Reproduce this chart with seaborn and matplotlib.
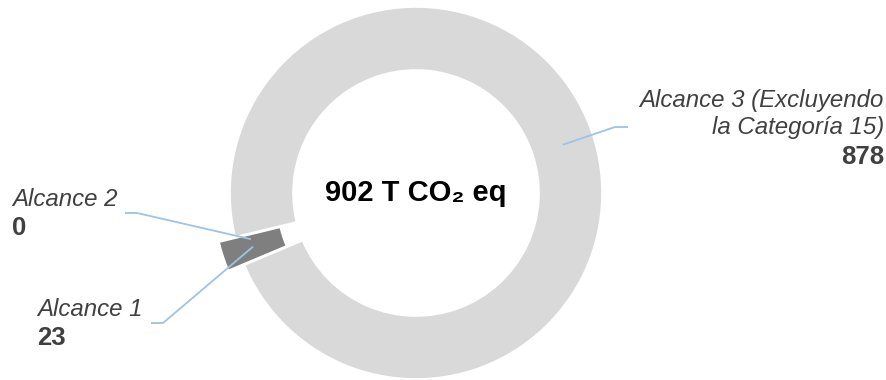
import numpy as np
import matplotlib
matplotlib.use("Agg")
import matplotlib.pyplot as plt
import seaborn as sns

# ---- data ----
categories = ["Alcance 1", "Alcance 2", "Alcance 3 (Excluyendo\nla Categoría 15)"]
values = [23, 0, 878]
value_labels = ["23", "0", "878"]
total_label = "902 T CO₂ eq"

sns.set_theme(style="white")
plt.rcParams["font.family"] = ["Liberation Sans", "DejaVu Sans"]

colors = ["#7F7F7F", "#7F7F7F", "#D9D9D9"]
line_color = "#9DC3E6"
text_color = "#404040"

W, H = 887, 380
fig = plt.figure(figsize=(W / 100, H / 100), dpi=100)
ax = fig.add_axes([0, 0, 1, 1])

cx, cy = 416, H - 193
R = 186
ring = 63
explode = [17, 0, 0]  # in data (pixel) units

wedges, _ = ax.pie(
    values, colors=colors, center=(cx, cy), radius=R,
    startangle=202.8, counterclock=False, explode=explode,
    wedgeprops=dict(width=ring, edgecolor="white", linewidth=1.2),
)
ax.set_xlim(0, W)
ax.set_ylim(0, H)
ax.set_aspect("equal")
ax.axis("off")

# center label
ax.text(cx, cy, total_label, ha="center", va="center", fontsize=21,
        fontweight="bold", color="black")

def anchor(w, ang=None, extra=0.0):
    th = np.deg2rad(ang if ang is not None else (w.theta1 + w.theta2) / 2)
    r = w.r - w.width / 2 + extra
    x0, y0 = w.center
    return x0 + r * np.cos(th), y0 + r * np.sin(th)

# leader lines: (anchor point, elbow, end)
a1 = anchor(wedges[0])
a2 = anchor(wedges[1], ang=wedges[1].theta1 + 2.0, extra=17)
a3 = anchor(wedges[2])
leaders = [
    (a1, (163, H - 323), (151, H - 323)),
    (a2, (137, H - 213), (125, H - 213)),
    (a3, (615, H - 127), (628, H - 127)),
]
for a, elbow, end in leaders:
    ax.plot([a[0], elbow[0], end[0]], [a[1], elbow[1], end[1]],
            color=line_color, lw=1.3, solid_capstyle="butt")

fs = 17.3
fsb = 18.5
# Alcance 2
ax.text(12, H - 200, categories[1], ha="left", va="center", fontsize=fs,
        style="italic", color=text_color)
ax.text(12, H - 228, value_labels[1], ha="left", va="center", fontsize=fsb,
        fontweight="bold", color=text_color)
# Alcance 1
ax.text(37, H - 309, categories[0], ha="left", va="center", fontsize=fs,
        style="italic", color=text_color)
ax.text(37, H - 338, value_labels[0], ha="left", va="center", fontsize=fsb,
        fontweight="bold", color=text_color)
# Alcance 3
l1, l2 = categories[2].split("\n")
ax.text(884, H - 100, l1, ha="right", va="center", fontsize=fs,
        style="italic", color=text_color)
ax.text(884, H - 128, l2, ha="right", va="center", fontsize=fs,
        style="italic", color=text_color)
ax.text(884, H - 157, value_labels[2], ha="right", va="center", fontsize=fsb,
        fontweight="bold", color=text_color)

fig.savefig("out.png", dpi=100)
